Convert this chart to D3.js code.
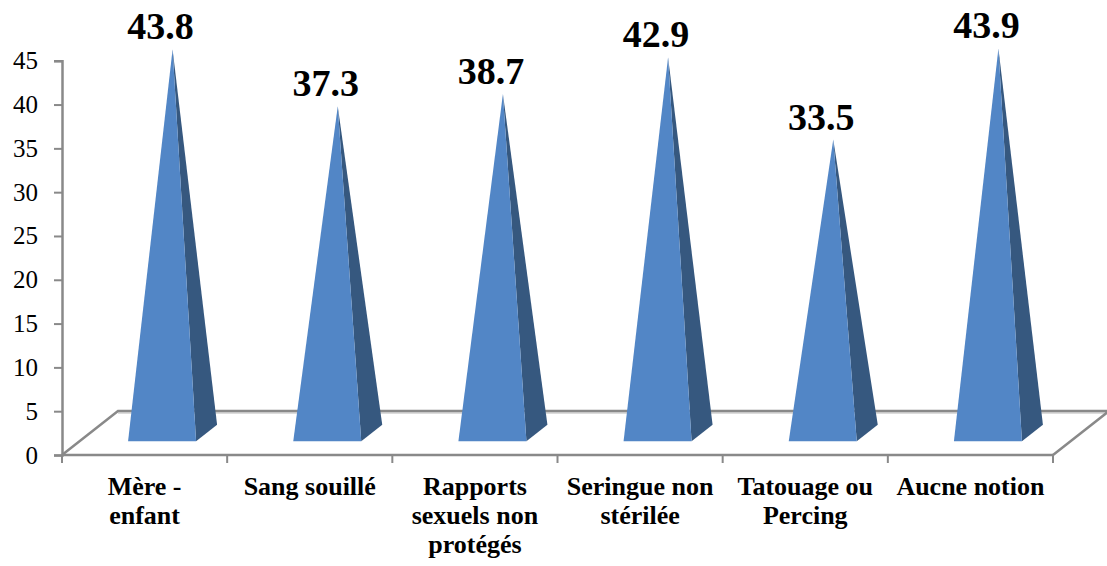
<!DOCTYPE html>
<html>
<head>
<meta charset="utf-8">
<script src="https://cdn.jsdelivr.net/npm/d3@7"></script>
<style>
  html, body { margin: 0; padding: 0; background: #ffffff; }
  svg { display: block; }
</style>
</head>
<body>
<svg id="chart" width="1107" height="566"></svg>
<script>
// Modes de transmission cités (%)
const categories = [
  "Mère -\nenfant",
  "Sang souillé",
  "Rapports\nsexuels non\nprotégés",
  "Seringue non\nstérilée",
  "Tatouage ou\nPercing",
  "Aucne notion"
];
const values = [43.8, 37.3, 38.7, 42.9, 33.5, 43.9];
const yTicks = [0, 5, 10, 15, 20, 25, 30, 35, 40, 45];

const plot = { left: 62, right: 1053, bottom: 455, top: 60.75 };
// oblique offset of the floor (front edge to back edge)
const depth = { dx: 56, dy: -44 };
const serif = '"Liberation Serif"';

const svg = d3.select("#chart");

const x = d3.scaleBand().domain(categories).range([plot.left, plot.right]).padding(0);
const y = d3.scaleLinear().domain([0, 45]).range([plot.bottom, plot.top]);

const axisColor = "#898989";

// floor: light shadow under the back edge, then the outline
const backY = plot.bottom + depth.dy;
svg.append("line")
  .attr("x1", plot.left + depth.dx).attr("x2", plot.right + depth.dx)
  .attr("y1", backY + 2).attr("y2", backY + 2)
  .attr("stroke", "#dcdcdc").attr("stroke-width", 2);
svg.append("path")
  .attr("d", d3.line()([
    [plot.left, plot.bottom],
    [plot.left + depth.dx, backY],
    [plot.right + depth.dx, backY],
    [plot.right, plot.bottom]
  ]))
  .attr("fill", "none").attr("stroke", axisColor).attr("stroke-width", 2.5)
  .attr("stroke-linejoin", "miter");

// category axis along the front edge of the floor
const xAxis = svg.append("g").attr("transform", `translate(0,${plot.bottom})`);
xAxis.append("line")
  .attr("x1", plot.left).attr("x2", plot.right)
  .attr("stroke", axisColor).attr("stroke-width", 2.5);
const boundaries = categories.map(c => x(c)).concat([plot.right]);
xAxis.selectAll("line.tick").data(boundaries).join("line")
  .attr("class", "tick")
  .attr("x1", d => d).attr("x2", d => d)
  .attr("y1", 0).attr("y2", 8)
  .attr("stroke", axisColor).attr("stroke-width", 2);

// value axis
const yAxis = d3.axisLeft(y).tickValues(yTicks).tickSize(8).tickPadding(16);
const gy = svg.append("g").attr("transform", `translate(${plot.left},0)`).call(yAxis);
gy.attr("font-family", serif).attr("font-size", 25);
gy.select(".domain").attr("stroke", axisColor).attr("stroke-width", 2.5);
gy.selectAll(".tick line").attr("stroke", axisColor).attr("stroke-width", 2);
gy.selectAll(".tick text")
  .attr("fill", "#000")
  .style("font-family", serif).attr("font-size", 25);

// pyramids standing in the middle of the floor depth
const halfW = 34;
const halfD = { dx: depth.dx * 0.1875, dy: depth.dy * 0.1875 };
const data = categories.map((c, i) => ({ c, v: values[i] }));

const pyr = svg.append("g").selectAll("g").data(data).join("g");
function geom(d) {
  const cx = x(d.c) + x.bandwidth() / 2 + depth.dx / 2;
  const cy = plot.bottom + depth.dy / 2;
  const apex = [cx, y(d.v) + depth.dy / 2];
  const fl = [cx - halfW - halfD.dx, cy - halfD.dy];
  const fr = [cx + halfW - halfD.dx, cy - halfD.dy];
  const br = [cx + halfW + halfD.dx, cy + halfD.dy];
  return { apex, fl, fr, br };
}
pyr.append("path")
  .attr("d", d => { const g = geom(d); return d3.line()([g.fr, g.br, g.apex]) + "Z"; })
  .attr("fill", "#36587f");
pyr.append("path")
  .attr("d", d => { const g = geom(d); return d3.line()([g.fl, g.fr, g.apex]) + "Z"; })
  .attr("fill", "#5286c6");

// value labels above the apex
pyr.append("text")
  .attr("x", d => geom(d).apex[0] - 12)
  .attr("y", d => geom(d).apex[1] - 10)
  .attr("text-anchor", "middle")
  .style("font-family", serif).attr("font-weight", "bold").attr("font-size", 38)
  .attr("fill", "#000")
  .text(d => d.v.toFixed(1));

// category labels under the front edge
const cat = svg.append("g").selectAll("text").data(categories).join("text")
  .attr("x", d => x(d) + x.bandwidth() / 2)
  .attr("y", 495)
  .attr("text-anchor", "middle")
  .style("font-family", serif).attr("font-weight", "bold").attr("font-size", 26)
  .attr("fill", "#000");
cat.each(function(d) {
  const t = d3.select(this);
  const cx = +t.attr("x");
  d.split("\n").forEach((line, i) => {
    t.append("tspan").attr("x", cx).attr("dy", i === 0 ? 0 : 29)
      .style("font-family", serif).text(line);
  });
});
</script>
</body>
</html>
